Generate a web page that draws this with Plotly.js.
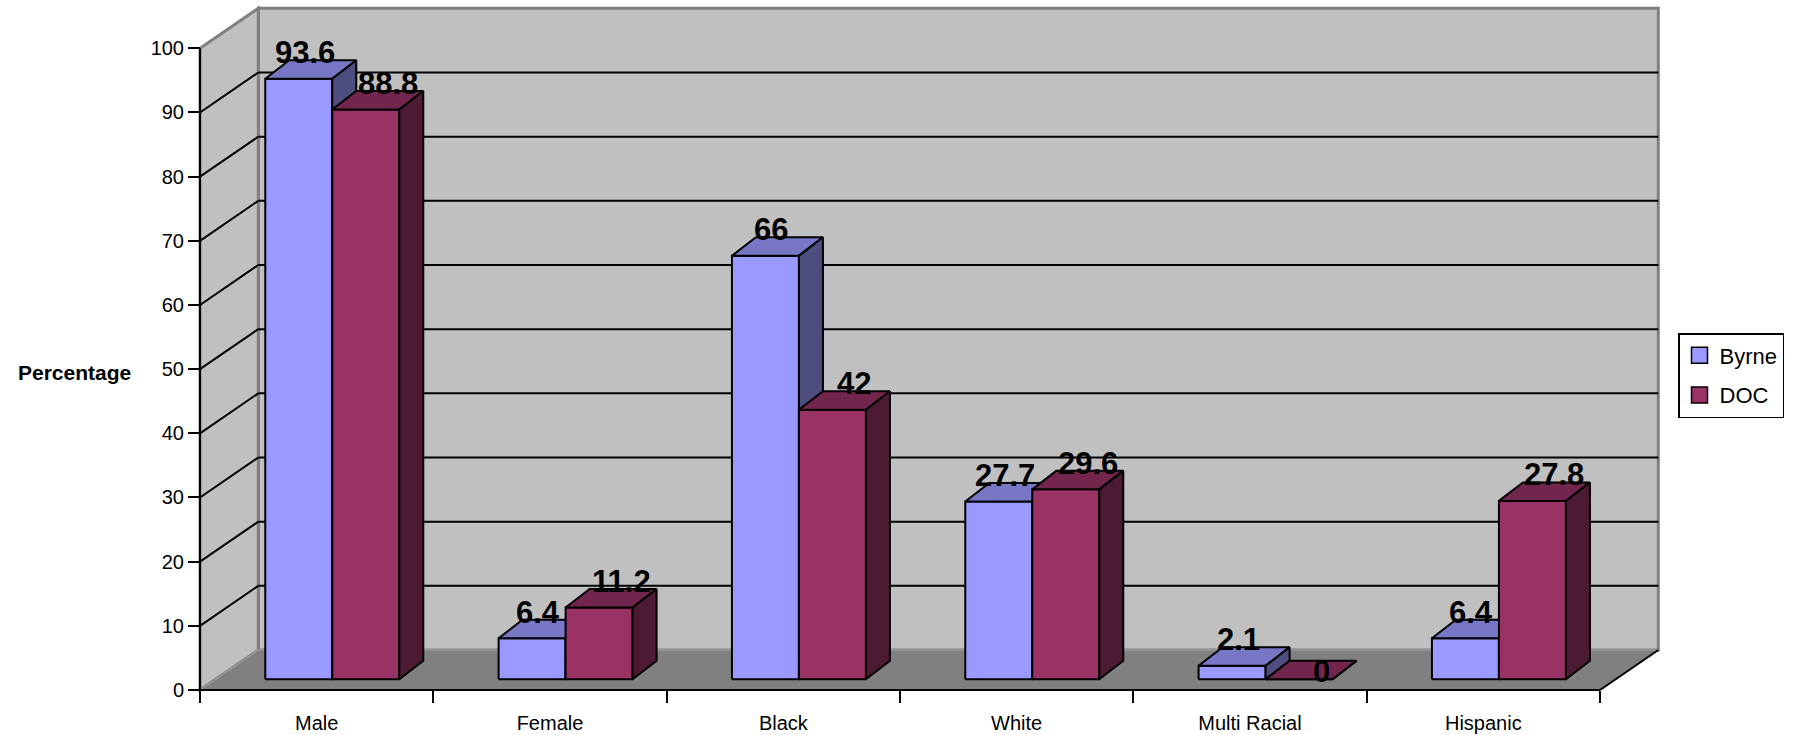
<!DOCTYPE html>
<html>
<head>
<meta charset="utf-8">
<script src="https://cdn.plot.ly/plotly-3.0.1.min.js"></script>
<style>
  html, body { margin: 0; padding: 0; background: #ffffff; }
  #chart { width: 1795px; height: 735px; }
</style>
</head>
<body>
<div id="chart"></div>
<script>
// ---- data ----
const categories = ['Male', 'Female', 'Black', 'White', 'Multi Racial', 'Hispanic'];
const byrne = [93.6, 6.4, 66, 27.7, 2.1, 6.4];
const doc = [88.8, 11.2, 42, 29.6, 0, 27.8];
const seriesNames = ['Byrne', 'DOC'];
const yTickVals = [0, 10, 20, 30, 40, 50, 60, 70, 80, 90, 100];

// ---- page geometry (pixels) ----
const W = 1795, H = 735;
const frontLeftPx = 200, frontZeroPx = 690;      // where category -0.5 / value 0 sit
const plotLeft = 190, plotRight = 1664, plotTop = 2, plotBottom = 700;
const catPx = 1400 / categories.length;           // px per category on the front plane
const valPx = (690 - 48.3) / 100;                 // px per percentage point
const dX = px => px / catPx;                      // pixel length -> category units
const dY = px => px / valPx;                      // pixel length -> value units

// oblique 3-D look: depth vectors expressed in axis units
const wallDepth = { x: dX(58.3), y: dY(40) };     // front plane -> back wall
const barShift  = { x: dX(15.6), y: dY(10.7) };   // front plane -> front face of bars
const barDepth  = { x: dX(24),   y: dY(18.5) };   // thickness of each bar
const barWidth  = dX(67);

const xMin = -0.5 - dX(frontLeftPx - plotLeft);
const xMax = -0.5 + dX(plotRight - frontLeftPx);
const yMin = -dY(plotBottom - frontZeroPx);
const yMax = dY(frontZeroPx - plotTop);
const paperX = px => (px - plotLeft) / (plotRight - plotLeft);
const paperY = px => (plotBottom - px) / (plotBottom - plotTop);

const FONT = 'Liberation Sans, Arial, Helvetica, sans-serif';

const series = [
  { name: seriesNames[0], values: byrne, slot: -1, front: '#9999ff', top: '#7777c6', side: '#4d4d80', labelPx: 6 },
  { name: seriesNames[1], values: doc,   slot: 0,  front: '#993366', top: '#73264d', side: '#4d1a33', labelPx: 22 }
];

// ---- bars: front, top and side faces built from the values ----
const traces = [];
const annotations = [];
series.forEach(s => {
  const faces = { front: { x: [], y: [] }, top: { x: [], y: [] }, side: { x: [], y: [] } };
  s.values.forEach((v, i) => {
    const x0 = i + barShift.x + s.slot * barWidth;
    const x1 = x0 + barWidth;
    const y0 = barShift.y;
    const y1 = y0 + v;
    const ox = barDepth.x, oy = barDepth.y;
    faces.front.x.push(x0, x1, x1, x0, x0, null);
    faces.front.y.push(y0, y0, y1, y1, y0, null);
    faces.top.x.push(x0, x1, x1 + ox, x0 + ox, x0, null);
    faces.top.y.push(y1, y1, y1 + oy, y1 + oy, y1, null);
    faces.side.x.push(x1, x1 + ox, x1 + ox, x1, x1, null);
    faces.side.y.push(y0, y0 + oy, y1 + oy, y1, y0, null);

    // value label sits on the back edge of the cap (a flat bar keeps it on the cap itself)
    annotations.push({
      xref: 'x', yref: 'y',
      x: (x0 + x1) / 2 + dX(s.labelPx),
      y: v > 0 ? y1 + oy : y0,
      text: String(v),
      showarrow: false,
      xanchor: 'center', yanchor: 'bottom',
      yshift: -12,
      font: { family: FONT, size: 31, color: '#000000', weight: 'bold' }
    });
  });
  ['front', 'top', 'side'].forEach(f => {
    traces.push({
      type: 'scatter', mode: 'lines',
      x: faces[f].x, y: faces[f].y,
      fill: 'toself', fillcolor: s[f],
      line: { color: '#000000', width: 2 },
      hoverinfo: 'skip', showlegend: false
    });
  });
});

// legend swatches
series.forEach(s => {
  traces.push({
    type: 'scatter', mode: 'markers',
    x: [null], y: [null],
    name: s.name, legendgroup: s.name,
    marker: { symbol: 'square', size: 16, color: s.front, line: { color: '#000000', width: 1.5 } },
    hoverinfo: 'skip', showlegend: true
  });
});

// ---- walls, floor and gridlines ----
const bx0 = -0.5 + wallDepth.x;
const bx1 = categories.length - 0.5 + wallDepth.x;
const fx1 = categories.length - 0.5;
const shapes = [];
const seg = (xa, ya, xb, yb, color, width) => ({
  type: 'line', xref: 'x', yref: 'y', x0: xa, y0: ya, x1: xb, y1: yb,
  line: { color: color, width: width }, layer: 'below'
});

// back wall
shapes.push({
  type: 'rect', xref: 'x', yref: 'y',
  x0: bx0, x1: bx1, y0: wallDepth.y, y1: 100 + wallDepth.y,
  fillcolor: '#c0c0c0', line: { color: '#808080', width: 3 }, layer: 'below'
});
// left side wall
shapes.push({
  type: 'path', xref: 'x', yref: 'y',
  path: `M -0.5 0 L -0.5 100 L ${bx0} ${100 + wallDepth.y} L ${bx0} ${wallDepth.y} Z`,
  fillcolor: '#c0c0c0', line: { color: '#808080', width: 3 }, layer: 'below'
});
// floor
shapes.push({
  type: 'path', xref: 'x', yref: 'y',
  path: `M -0.5 0 L ${fx1} 0 L ${bx1} ${wallDepth.y} L ${bx0} ${wallDepth.y} Z`,
  fillcolor: '#808080', line: { color: '#9a9a9a', width: 1.5 }, layer: 'below'
});
// gridlines on the back wall and their runs across the side wall
yTickVals.filter(v => v > 0 && v < 100).forEach(v => {
  shapes.push(seg(bx0, v + wallDepth.y, bx1, v + wallDepth.y, '#000000', 2));
  shapes.push(seg(-0.5, v, bx0, v + wallDepth.y, '#000000', 2));
});
// front edges
shapes.push(seg(-0.5, 0, fx1, 0, '#000000', 2));
shapes.push(seg(fx1, 0, bx1, wallDepth.y, '#000000', 2));
shapes.push(seg(-0.5, 0, -0.5, 100, '#000000', 2));

// axis title, written horizontally
annotations.push({
  xref: 'paper', yref: 'paper',
  x: paperX(75), y: paperY(372),
  text: 'Percentage', showarrow: false,
  xanchor: 'center', yanchor: 'middle',
  font: { family: FONT, size: 21, color: '#000000', weight: 'bold' }
});

const boundaries = categories.map((c, i) => i - 0.5).concat([categories.length - 0.5]);

const layout = {
  width: W, height: H,
  margin: { l: plotLeft, r: W - plotRight, t: plotTop, b: H - plotBottom, pad: 0 },
  paper_bgcolor: '#ffffff', plot_bgcolor: 'rgba(0,0,0,0)',
  font: { family: FONT, size: 20, color: '#000000' },
  showlegend: true,
  xaxis: {
    type: 'linear', range: [xMin, xMax], fixedrange: true,
    anchor: 'free', position: paperY(frontZeroPx),
    showgrid: false, zeroline: false, showline: false,
    tickmode: 'array', tickvals: categories.map((c, i) => i), ticktext: categories,
    ticks: 'outside', ticklen: 12, tickwidth: 2, tickcolor: 'rgba(0,0,0,0)',
    ticklabelstandoff: 3,
    tickfont: { family: FONT, size: 20, color: '#000000' },
    minor: { tickmode: 'array', tickvals: boundaries, ticks: 'outside', ticklen: 12, tickwidth: 2, tickcolor: '#000000', showgrid: false }
  },
  yaxis: {
    type: 'linear', range: [yMin, yMax], fixedrange: true,
    anchor: 'free', position: paperX(frontLeftPx),
    showgrid: false, zeroline: false, showline: false,
    tickmode: 'array', tickvals: yTickVals,
    ticks: 'outside', ticklen: 12, tickwidth: 2, tickcolor: '#000000',
    tickfont: { family: FONT, size: 20, color: '#000000' }
  },
  legend: {
    x: paperX(1678), y: paperY(333), xanchor: 'left', yanchor: 'top',
    bgcolor: '#ffffff', bordercolor: '#000000', borderwidth: 1.5,
    font: { family: FONT, size: 22, color: '#000000' },
    tracegroupgap: 8, traceorder: 'grouped'
  },
  shapes: shapes,
  annotations: annotations
};

Plotly.newPlot('chart', traces, layout, { displayModeBar: false, staticPlot: true });
</script>
</body>
</html>
